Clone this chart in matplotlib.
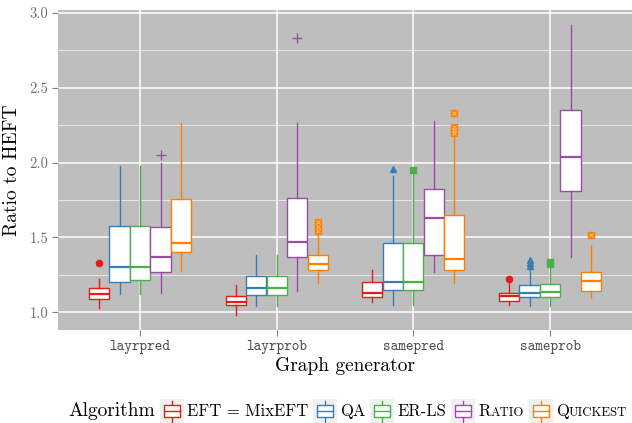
import matplotlib
matplotlib.use('Agg')
import matplotlib.pyplot as plt
from matplotlib.offsetbox import HPacker, TextArea, DrawingArea, AnchoredOffsetbox
from matplotlib.patches import Rectangle
from matplotlib.lines import Line2D
from matplotlib.ticker import MultipleLocator, FixedLocator

plt.rcParams['axes.formatter.use_mathtext'] = True
plt.rcParams['font.family'] = ['cmr10', 'DejaVu Serif']

categories = ['layrpred', 'layrprob', 'samepred', 'sameprob']
algorithms = ['EFT = MixEFT', 'QA', 'ER-LS', 'Ratio', 'Quickest']
colors = ['#E41A1C', '#377EB8', '#4DAF4A', '#984EA3', '#FF7F00']

# stats per algorithm, one value per category
eft_whislo = [1.03, 0.98, 1.07, 1.05]
eft_q1 = [1.09, 1.05, 1.10, 1.075]
eft_med = [1.12, 1.07, 1.13, 1.11]
eft_q3 = [1.165, 1.11, 1.20, 1.13]
eft_whishi = [1.22, 1.18, 1.28, 1.20]
eft_fliers = [[1.33], [], [], [1.22]]

qa_whislo = [1.12, 1.04, 1.05, 1.045]
qa_q1 = [1.205, 1.115, 1.15, 1.105]
qa_med = [1.30, 1.16, 1.20, 1.13]
qa_q3 = [1.575, 1.24, 1.465, 1.18]
qa_whishi = [1.98, 1.38, 1.91, 1.30]
qa_fliers = [[], [], [1.955], [1.31, 1.33, 1.35]]

erls_whislo = [1.12, 1.04, 1.05, 1.045]
erls_q1 = [1.215, 1.115, 1.15, 1.105]
erls_med = [1.30, 1.16, 1.20, 1.135]
erls_q3 = [1.575, 1.24, 1.465, 1.19]
erls_whishi = [1.98, 1.38, 1.92, 1.31]
erls_fliers = [[], [], [1.948], [1.325, 1.338]]

ratio_whislo = [1.13, 1.14, 1.27, 1.37]
ratio_q1 = [1.27, 1.37, 1.385, 1.81]
ratio_med = [1.37, 1.47, 1.63, 2.04]
ratio_q3 = [1.57, 1.76, 1.825, 2.35]
ratio_whishi = [2.00, 2.265, 2.28, 2.915]
ratio_fliers = [[2.05], [2.83], [], []]

quick_whislo = [1.275, 1.195, 1.195, 1.095]
quick_q1 = [1.40, 1.28, 1.285, 1.145]
quick_med = [1.465, 1.32, 1.355, 1.21]
quick_q3 = [1.755, 1.38, 1.65, 1.27]
quick_whishi = [2.265, 1.52, 2.18, 1.45]
quick_fliers = [[], [1.54, 1.57, 1.60], [2.20, 2.22, 2.24, 2.33], [1.515]]

series = [
    (eft_whislo, eft_q1, eft_med, eft_q3, eft_whishi, eft_fliers),
    (qa_whislo, qa_q1, qa_med, qa_q3, qa_whishi, qa_fliers),
    (erls_whislo, erls_q1, erls_med, erls_q3, erls_whishi, erls_fliers),
    (ratio_whislo, ratio_q1, ratio_med, ratio_q3, ratio_whishi, ratio_fliers),
    (quick_whislo, quick_q1, quick_med, quick_q3, quick_whishi, quick_fliers),
]
markers = ['o', '^', 's', '+', 's']

fig = plt.figure(figsize=(6.32, 4.23), dpi=100)
ax = fig.add_axes([58 / 632, 1 - 330 / 423, 574 / 632, 320 / 423])
ax.set_facecolor('#BEBEBE')
for s in ax.spines.values():
    s.set_visible(False)

ax.set_xlim(0.4, 4.6)
ax.set_ylim(0.883, 3.017)
ax.yaxis.set_major_locator(MultipleLocator(0.5))
ax.yaxis.set_minor_locator(FixedLocator([1.25, 1.75, 2.25, 2.75]))
ax.set_xticks(range(1, 5))
ax.set_xticklabels(categories, family='cmtt10', fontsize=10.5, color='#4D4D4D')
ax.set_yticks([1.0, 1.5, 2.0, 2.5, 3.0])
ax.set_yticklabels(['1.0', '1.5', '2.0', '2.5', '3.0'], fontsize=10.5, color='#6E6E6E')
ax.tick_params(axis='both', which='major', length=4, width=0.8, color='#7F7F7F', pad=3)
ax.tick_params(axis='y', which='minor', length=0)
ax.grid(True, which='major', color='white', linewidth=1.1)
ax.grid(True, which='minor', axis='y', color='#EDEDED', linewidth=0.6)
ax.set_axisbelow(True)

width = 0.15
for j, (wl, q1, med, q3, wh, fl) in enumerate(series):
    c = colors[j]
    stats = []
    for i in range(4):
        stats.append(dict(whislo=wl[i], q1=q1[i], med=med[i], q3=q3[i], whishi=wh[i], fliers=fl[i]))
    pos = [i + 1 + (j - 2) * width for i in range(4)]
    if j == 4:
        fp = dict(marker='s', markerfacecolor=c, markeredgecolor=c, markersize=4.5, linestyle='none')
    elif j == 3:
        fp = dict(marker='+', markeredgecolor=c, markersize=7, markeredgewidth=1.0, linestyle='none')
    else:
        fp = dict(marker=markers[j], markerfacecolor=c, markeredgecolor=c, markersize=4.5, linestyle='none')
    ax.bxp(stats, positions=pos, widths=width * 0.98, patch_artist=True, showcaps=False,
           boxprops=dict(facecolor='white', edgecolor=c, linewidth=1.0),
           whiskerprops=dict(color=c, linewidth=1.0),
           medianprops=dict(color=c, linewidth=1.6),
           flierprops=fp, manage_ticks=False)
    if j == 4:
        for i in range(4):
            if fl[i]:
                ax.plot([pos[i]] * len(fl[i]), fl[i], linestyle='none', marker='x',
                        markersize=3.2, markeredgewidth=0.7, color='#FFC080')

ax.set_xlabel('Graph generator', fontsize=14, labelpad=2)
ax.set_ylabel('Ratio to HEFT', fontsize=14, labelpad=6)

# legend
pt = 72 / 100.0


def key(color):
    s = 24 * pt
    da = DrawingArea(s, s, 0, 0)
    da.add_artist(Rectangle((0, 0), s, s, facecolor='#F0F0F0', edgecolor='none'))
    da.add_artist(Line2D([s / 2, s / 2], [1.5 * pt, 22.5 * pt], color=color, lw=1.0))
    da.add_artist(Rectangle((4 * pt, 6 * pt), 16 * pt, 12 * pt, facecolor='white', edgecolor=color, lw=1.0))
    da.add_artist(Line2D([4 * pt, 20 * pt], [12 * pt, 12 * pt], color=color, lw=1.0))
    return da


def label(parts):
    areas = [TextArea(t, textprops=dict(fontsize=sz, color='black')) for t, sz in parts]
    return HPacker(children=areas, align='baseline', pad=0, sep=0)


label_parts = [
    [('EFT = MixEFT', 12)],
    [('QA', 12)],
    [('ER-LS', 12)],
    [('R', 12), ('ATIO', 9.2)],
    [('Q', 12), ('UICKEST', 9.2)],
]

children = [TextArea('Algorithm', textprops=dict(fontsize=14, color='black'))]
for j in range(5):
    children.append(HPacker(children=[key(colors[j]), label(label_parts[j])], align='center', pad=0, sep=3 * pt))
legend_box = HPacker(children=children, align='center', pad=0, sep=5 * pt)
anch = AnchoredOffsetbox(loc='center left', child=legend_box, pad=0, frameon=False,
                         bbox_to_anchor=(68 / 632, 1 - 411 / 423), bbox_transform=fig.transFigure,
                         borderpad=0)
fig.add_artist(anch)

fig.savefig('out.png', dpi=100)
